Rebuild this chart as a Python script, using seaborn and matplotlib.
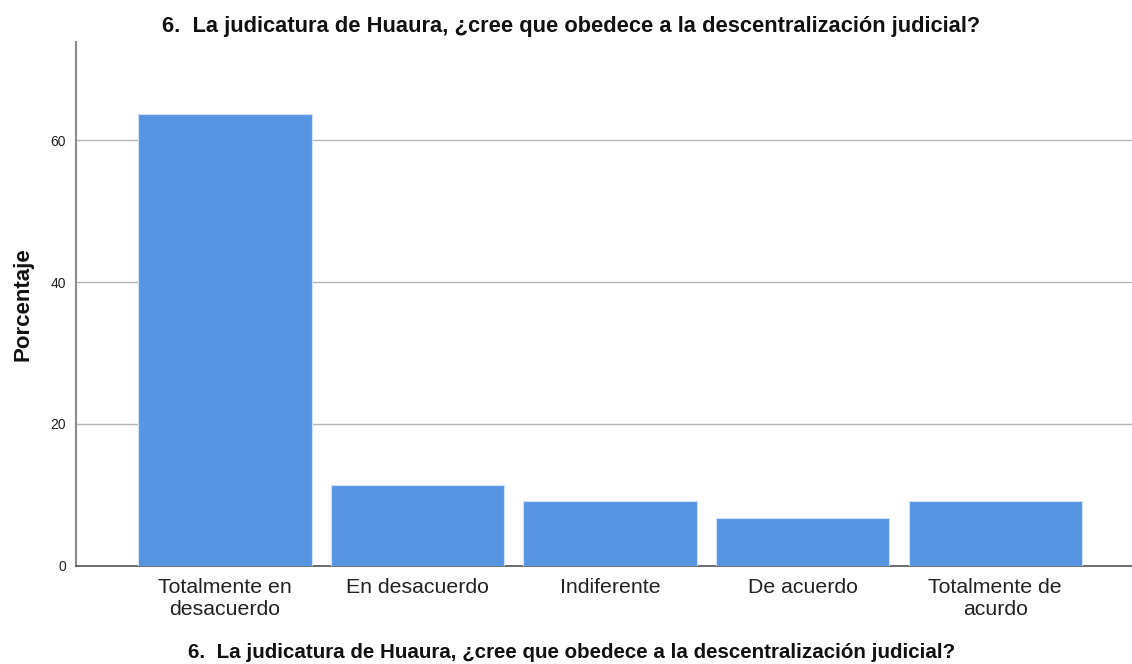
import matplotlib
matplotlib.use("Agg")
import matplotlib.pyplot as plt
import seaborn as sns
import pandas as pd

categorias = ["Totalmente en\ndesacuerdo", "En desacuerdo", "Indiferente",
              "De acuerdo", "Totalmente de\nacurdo"]
porcentajes = [63.64, 11.36, 9.09, 6.82, 9.09]
titulo = "6.  La judicatura de Huaura, ¿cree que obedece a la descentralización judicial?"

df = pd.DataFrame({"categoria": categorias, "porcentaje": porcentajes})

sns.set_style("white")
plt.rcParams["font.family"] = ["Liberation Sans", "DejaVu Sans"]

fig = plt.figure(figsize=(11.32, 6.64), dpi=100)
ax = fig.add_axes([0.0671, 0.1476, 0.9329, 0.7891])

sns.barplot(data=df, x="categoria", y="porcentaje", color="#5795e3",
            saturation=1, width=0.9, edgecolor="#cfe0f7", linewidth=0.8,
            ax=ax, zorder=3)

ax.set_xlim(-0.774, 4.71)
ax.set_ylim(0, 73.8)
ax.set_yticks([0, 20, 40, 60])
ax.yaxis.grid(True, color="#b4b4b4", linewidth=1, zorder=0)
ax.set_axisbelow(True)
ax.tick_params(axis="y", length=0, pad=7, labelsize=10, colors="#222222")
ax.tick_params(axis="x", length=0, pad=9, labelsize=15.3, colors="#222222")
for lbl in ax.get_xticklabels():
    lbl.set_linespacing(1.15)

sns.despine(ax=ax, top=True, right=True)
ax.spines["left"].set_color("#8c8c8c")
ax.spines["left"].set_linewidth(1.5)
ax.spines["bottom"].set_color("#555555")
ax.spines["bottom"].set_linewidth(1.2)

# titulo arriba y abajo centrados en la figura, no en el eje
ax.set_title(titulo, fontsize=15.75, fontweight="bold", color="#111111",
             x=0.469, y=1.029, pad=0, va="center")
ax.set_xlabel(titulo, fontsize=14.8, fontweight="bold", color="#111111")
ax.xaxis.set_label_coords(0.469, -0.166)
ax.xaxis.label.set_va("center")
ax.set_ylabel("Porcentaje", fontsize=16, fontweight="bold", labelpad=12, color="#111111")

fig.savefig("out.png", dpi=100)
